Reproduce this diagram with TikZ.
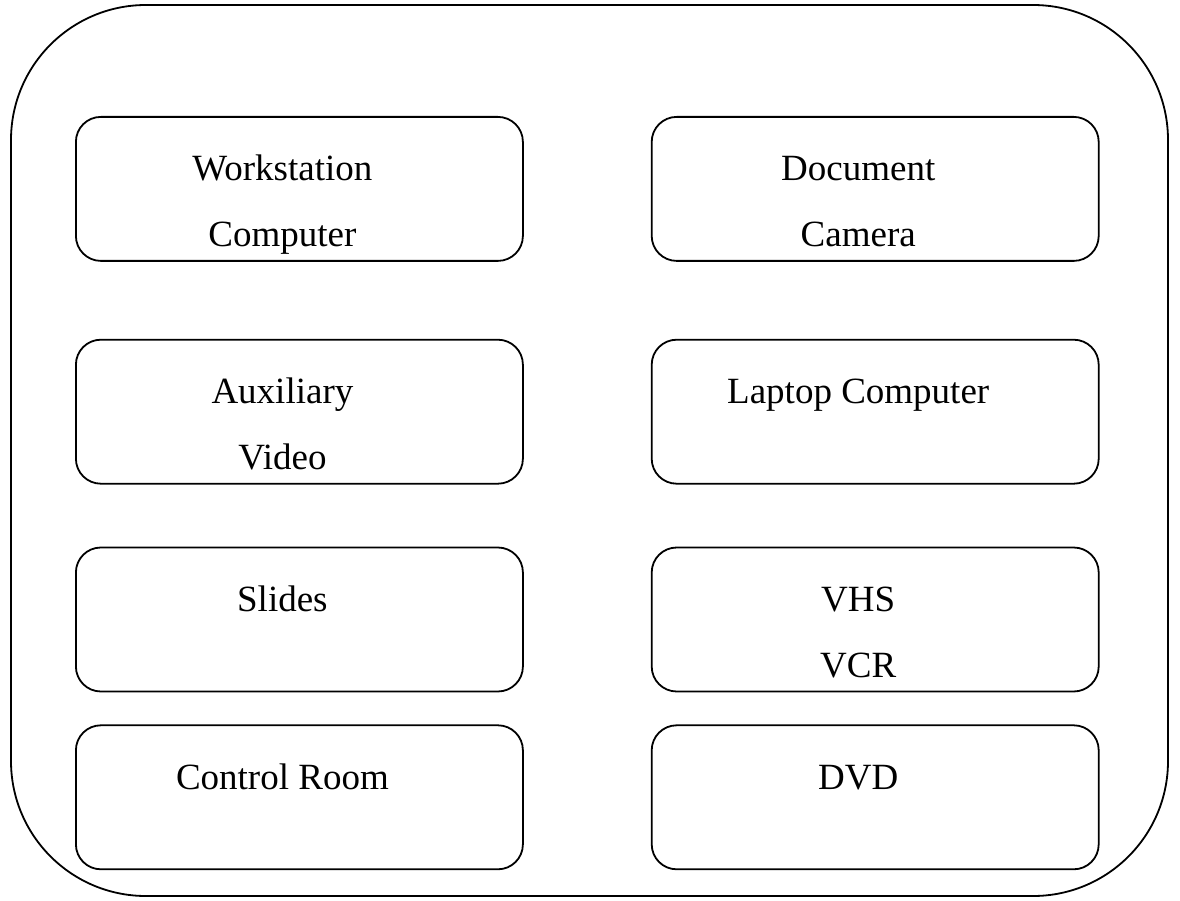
\documentclass[tikz,border=0pt]{standalone}
\usepackage{fontspec}
\setmainfont{Liberation Serif}
\usetikzlibrary{positioning}

\begin{document}
\begin{tikzpicture}[
    x=1pt, y=-1pt,
    font=\fontsize{37}{44}\selectfont,
    dev/.style={rectangle, rounded corners=25pt, draw, line width=1.8pt,
                minimum width=447pt, minimum height=144pt, inner sep=0pt},
    lbl/.style={anchor=base, inner sep=0pt},
    node distance=77pt and 127pt
  ]
    \useasboundingbox (0,0) rectangle (1180,901);

    % Outer frame
    \draw[line width=1.8pt, rounded corners=135pt] (11,5) rectangle (1168,896);

    % Left column
    \node[dev, anchor=north west] (ws) at (75,116) {};
    \node[dev, below=of ws]            (aux)    {};
    \node[dev, below=62pt of aux]      (slides) {};
    \node[dev, below=32pt of slides]   (ctrl)   {};

    % Right column
    \node[dev, right=of ws]     (doccam) {};
    \node[dev, right=of aux]    (laptop) {};
    \node[dev, right=of slides] (vhs)    {};
    \node[dev, right=of ctrl]   (dvd)    {};

    % Labels
    \node[lbl] (ws-a) at ([xshift=-17pt, yshift=-65pt]ws.north)  {Workstation};
    \node[lbl] (ws-b) at ([xshift=-17pt, yshift=-131pt]ws.north) {Computer};
    \node[lbl] (aux-a) at ([xshift=-17pt, yshift=-65pt]aux.north)  {Auxiliary};
    \node[lbl] (aux-b) at ([xshift=-17pt, yshift=-131pt]aux.north) {Video};
    \node[lbl] (slides-a) at ([xshift=-17pt, yshift=-65pt]slides.north) {Slides};
    \node[lbl] (ctrl-a) at ([xshift=-17pt, yshift=-65pt]ctrl.north) {Control Room};

    \node[lbl] (doccam-a) at ([xshift=-17pt, yshift=-65pt]doccam.north)  {Document};
    \node[lbl] (doccam-b) at ([xshift=-17pt, yshift=-131pt]doccam.north) {Camera};
    \node[lbl] (laptop-a) at ([xshift=-17pt, yshift=-65pt]laptop.north) {Laptop Computer};
    \node[lbl] (vhs-a) at ([xshift=-17pt, yshift=-65pt]vhs.north)  {VHS};
    \node[lbl] (vhs-b) at ([xshift=-17pt, yshift=-131pt]vhs.north) {VCR};
    \node[lbl] (dvd-a) at ([xshift=-17pt, yshift=-65pt]dvd.north) {DVD};
\end{tikzpicture}
\end{document}
